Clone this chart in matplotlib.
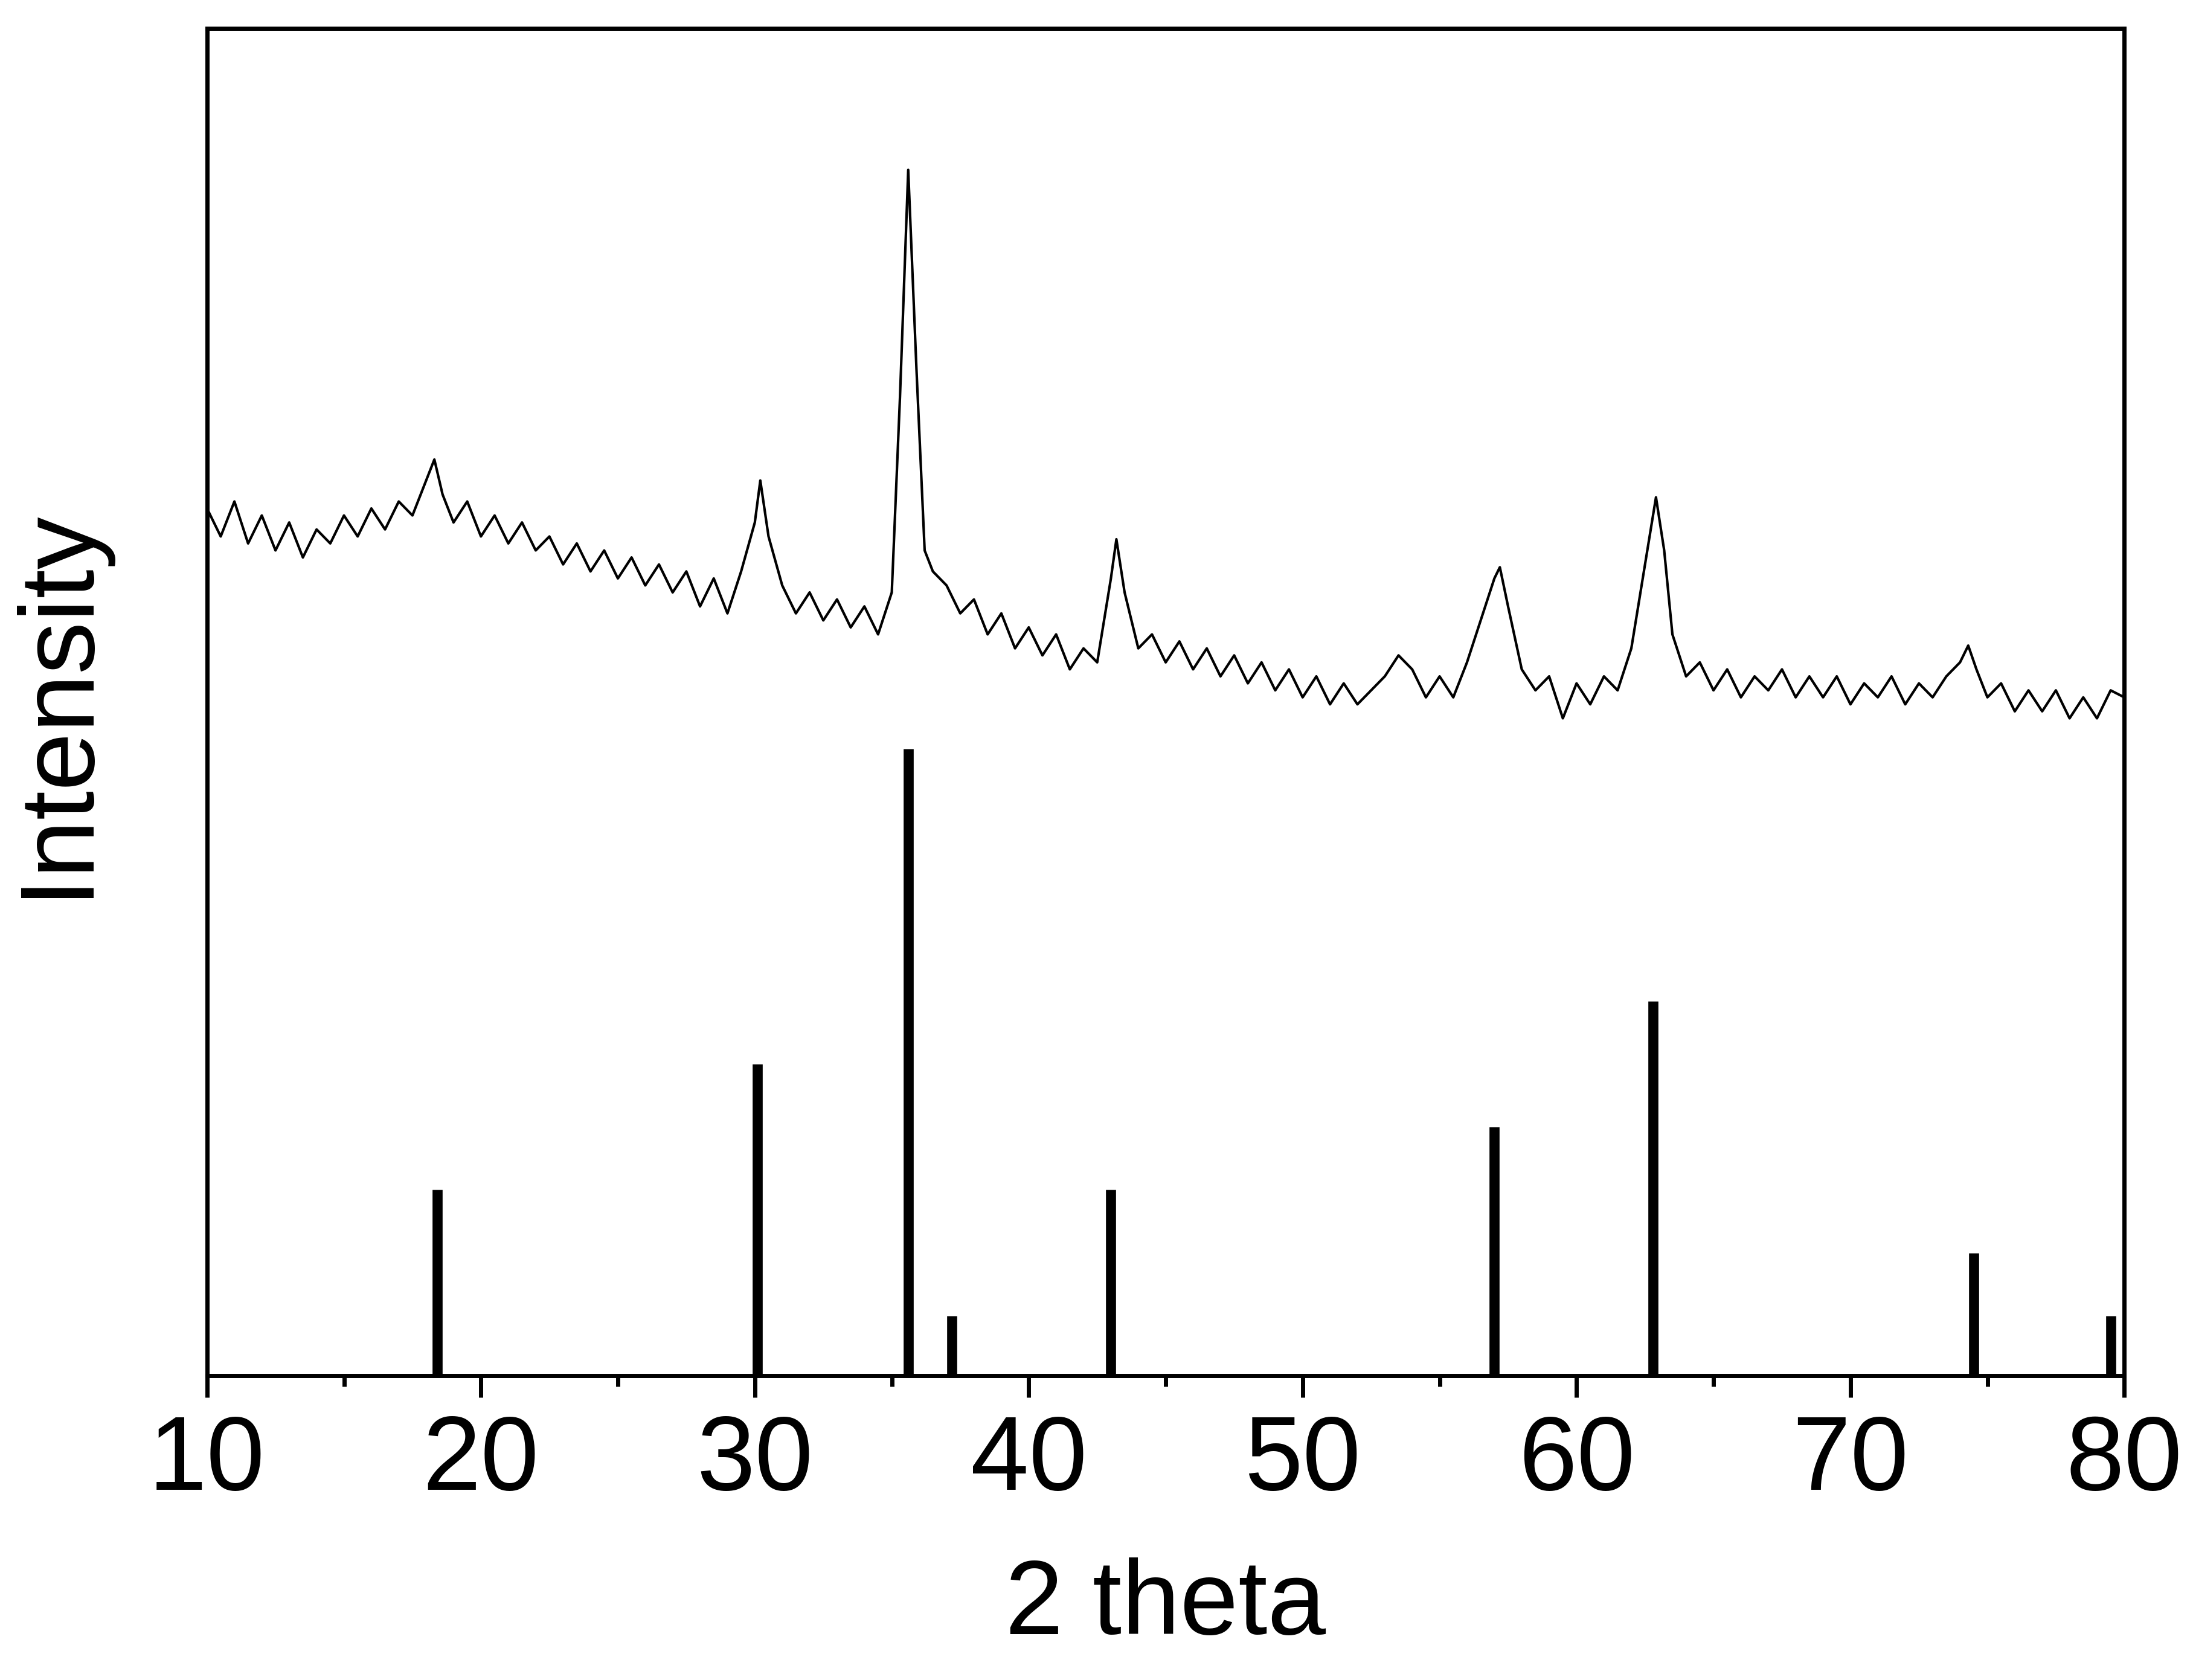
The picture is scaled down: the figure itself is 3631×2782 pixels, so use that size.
import matplotlib
matplotlib.use("Agg")
import matplotlib.pyplot as plt
from matplotlib.ticker import MultipleLocator

trace_x = [10, 10.5, 11, 11.5, 12, 12.5, 13, 13.5, 14, 14.5, 15, 15.5, 16, 16.5, 17, 17.5, 18, 18.3, 18.6, 19,
           19.5, 20, 20.5, 21, 21.5, 22, 22.5, 23, 23.5, 24, 24.5, 25, 25.5, 26, 26.5, 27, 27.5, 28, 28.5, 29,
           29.5, 30, 30.2, 30.5, 31, 31.5, 32, 32.5, 33, 33.5, 34, 34.5, 35, 35.3, 35.6, 35.9, 36.2, 36.5, 37, 37.5,
           38, 38.5, 39, 39.5, 40, 40.5, 41, 41.5, 42, 42.5, 43, 43.2, 43.5, 44, 44.5, 45, 45.5, 46, 46.5, 47,
           47.5, 48, 48.5, 49, 49.5, 50, 50.5, 51, 51.5, 52, 52.5, 53, 53.5, 54, 54.5, 55, 55.5, 56, 56.5, 57,
           57.2, 57.5, 58, 58.5, 59, 59.5, 60, 60.5, 61, 61.5, 62, 62.5, 62.9, 63.2, 63.5, 64, 64.5, 65, 65.5, 66,
           66.5, 67, 67.5, 68, 68.5, 69, 69.5, 70, 70.5, 71, 71.5, 72, 72.5, 73, 73.5, 74, 74.3, 74.6, 75, 75.5,
           76, 76.5, 77, 77.5, 78, 78.5, 79, 79.5, 80]
trace_y = [620, 600, 625, 595, 615, 590, 610, 585, 605, 595, 615, 600, 620, 605, 625, 615, 640, 655, 630, 610,
           625, 600, 615, 595, 610, 590, 600, 580, 595, 575, 590, 570, 585, 565, 580, 560, 575, 550, 570, 545,
           575, 610, 640, 600, 565, 545, 560, 540, 555, 535, 550, 530, 560, 700, 862, 720, 590, 575, 565, 545,
           555, 530, 545, 520, 535, 515, 530, 505, 520, 510, 570, 598, 560, 520, 530, 510, 525, 505, 520, 500,
           515, 495, 510, 490, 505, 485, 500, 480, 495, 480, 490, 500, 515, 505, 485, 500, 485, 510, 540, 570,
           578, 550, 505, 490, 500, 470, 495, 480, 500, 490, 520, 580, 628, 590, 530, 500, 510, 490, 505, 485,
           500, 490, 505, 485, 500, 485, 500, 480, 495, 485, 500, 480, 495, 485, 500, 510, 522, 505, 485, 495,
           475, 490, 475, 490, 470, 485, 470, 490, 485]

# reference stick pattern
stick_x = [18.4, 30.1, 35.6, 37.2, 43.0, 57.0, 62.8, 74.5, 79.5]
stick_h = [133, 223, 448, 43, 133, 178, 268, 88, 43]

plt.rcParams['font.family'] = ['Liberation Sans', 'DejaVu Sans']
fig = plt.figure(figsize=(36.31, 27.82), dpi=100)
ax = fig.add_axes([0.0944, 0.181, 0.8743, 0.802])

ax.plot(trace_x, trace_y, color='black', lw=3)
ax.vlines(stick_x, 0, stick_h, color='black', lw=12)

ax.set_xlim(10, 80)
ax.set_ylim(0, 963)
ax.xaxis.set_major_locator(MultipleLocator(10))
ax.xaxis.set_minor_locator(MultipleLocator(5))
ax.set_yticks([])
ax.tick_params(axis='x', which='major', direction='out', length=26, width=5, labelsize=125, pad=18)
ax.tick_params(axis='x', which='minor', direction='out', length=13, width=5)
for s in ax.spines.values():
    s.set_linewidth(5)
ax.set_xlabel('2 theta', fontsize=125, labelpad=55)
ax.set_ylabel('Intensity', fontsize=125, labelpad=120)

fig.savefig('out.png', dpi=100)
